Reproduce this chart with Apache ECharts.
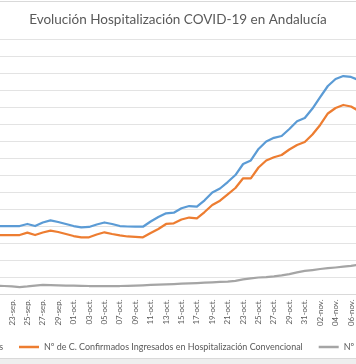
<!DOCTYPE html>
<html>
<head>
<meta charset="utf-8">
<script src="https://cdn.jsdelivr.net/npm/echarts@6/dist/echarts.min.js"></script>
<style>html,body{margin:0;padding:0;background:#fff}#c{width:356px;height:364px}</style>
</head>
<body>
<div id="c"></div>
<script>
const titleText = 'Evolución Hospitalización COVID-19 en Andalucía';
const seriesNames = [
  'Nº de C. Confirmados Hospitalizados',
  'Nº de C. Confirmados Ingresados en Hospitalización Convencional',
  'Nº de C. Confirmados Ingresados en UCI'
];
const categories = [
  '20-sep.','21-sep.','22-sep.','23-sep.','24-sep.','25-sep.','26-sep.','27-sep.','28-sep.','29-sep.','30-sep.',
  '01-oct.','02-oct.','03-oct.','04-oct.','05-oct.','06-oct.','07-oct.','08-oct.','09-oct.','10-oct.',
  '11-oct.','12-oct.','13-oct.','14-oct.','15-oct.','16-oct.','17-oct.','18-oct.','19-oct.','20-oct.',
  '21-oct.','22-oct.','23-oct.','24-oct.','25-oct.','26-oct.','27-oct.','28-oct.','29-oct.','30-oct.','31-oct.',
  '01-nov.','02-nov.','03-nov.','04-nov.','05-nov.','06-nov.','07-nov.'
];
const totalHosp = [1007,1007,1007,1007,1007,1037,1007,1059,1091,1066,1037,1007,988,993,1029,1059,1037,1007,1000,997,997,1074,1140,1194,1203,1268,1301,1291,1385,1500,1559,1654,1757,1919,1971,2140,2250,2304,2331,2434,2547,2596,2735,2904,3066,3169,3213,3199,3154];
const convHosp = [875,875,875,875,875,909,875,912,938,919,890,860,841,841,882,915,890,868,853,846,841,904,963,1037,1047,1103,1132,1121,1213,1316,1379,1471,1566,1709,1709,1868,1971,2018,2051,2132,2199,2243,2353,2493,2662,2743,2787,2765,2699];
const uci = [132,131,125,118,110,118,132,140,137,134,132,131,128,125,125,125,125,125,128,132,135,140,146,150,154,159,163,169,174,179,184,190,201,221,238,250,257,268,282,301,324,346,360,375,387,397,409,422,438];
const colors = ['#5B9BD5','#ED7D31','#A5A5A5'];

const FONT = 'Lato';
function textW(txt, size){
  const c = document.createElement('canvas').getContext('2d');
  c.font = size + 'px ' + FONT;
  return c.measureText(txt).width;
}
const legendSize = 10 * 259 / textW(seriesNames[1], 10);
const titleSize = 10 * 298 / textW(titleText, 10);
const axisSize = 10 * 26 / textW('23-sep.', 10);
const w1 = textW(seriesNames[0], legendSize);

const chart = echarts.init(document.getElementById('c'), null, {renderer:'canvas'});
chart.setOption({
  animation: false,
  backgroundColor: '#fff',
  title: {
    text: titleText, left: 'center', top: 20 - titleSize * 0.6, padding: 0,
    textStyle: {fontSize: titleSize, lineHeight: titleSize * 1.2, color: '#595959', fontWeight: 'normal', fontFamily: FONT}
  },
  graphic: [
    {type:'rect', shape:{x:-5, y:1.5, width:366, height:357}, style:{fill:'none', stroke:'#d9d9d9', lineWidth:1}, silent:true},
    {type:'rect', shape:{x:-5, y:359, width:366, height:10}, style:{fill:'#eeeeee'}, silent:true}
  ],
  legend: {
    data: seriesNames, orient: 'horizontal', left: -22 - w1, top: 341, width: 2000, padding: 0,
    itemGap: 16, itemWidth: 20, itemHeight: 2.5, icon: 'rect',
    textStyle: {fontSize: legendSize, lineHeight: 12, color: '#595959', fontFamily: FONT}
  },
  grid: {left: -15, width: 49 * 7.705, top: 39.5, bottom: 69.5, containLabel: false, outerBoundsMode: 'none'},
  xAxis: {
    type: 'category', data: categories, boundaryGap: true,
    axisLine: {lineStyle: {color: '#d9d9d9'}},
    axisTick: {show: false},
    axisLabel: {rotate: 90, interval: function(i){ return i % 2 === 1; }, fontSize: axisSize, color: '#595959', fontFamily: FONT, margin: 5, hideOverlap: false}
  },
  yAxis: {
    type: 'value', min: 0, max: 3750, interval: 250,
    axisLabel: {show: false}, axisLine: {show: false}, axisTick: {show: false},
    splitLine: {lineStyle: {color: '#e3e3e3'}}
  },
  series: [
    {name: seriesNames[0], type: 'line', data: totalHosp, symbol: 'none', lineStyle: {width: 2.25, color: colors[0], cap: 'round', join: 'round'}, itemStyle: {color: colors[0]}},
    {name: seriesNames[1], type: 'line', data: convHosp, symbol: 'none', lineStyle: {width: 2.25, color: colors[1], cap: 'round', join: 'round'}, itemStyle: {color: colors[1]}},
    {name: seriesNames[2], type: 'line', data: uci, symbol: 'none', lineStyle: {width: 2.25, color: colors[2], cap: 'round', join: 'round'}, itemStyle: {color: colors[2]}}
  ]
});
</script>
</body>
</html>
